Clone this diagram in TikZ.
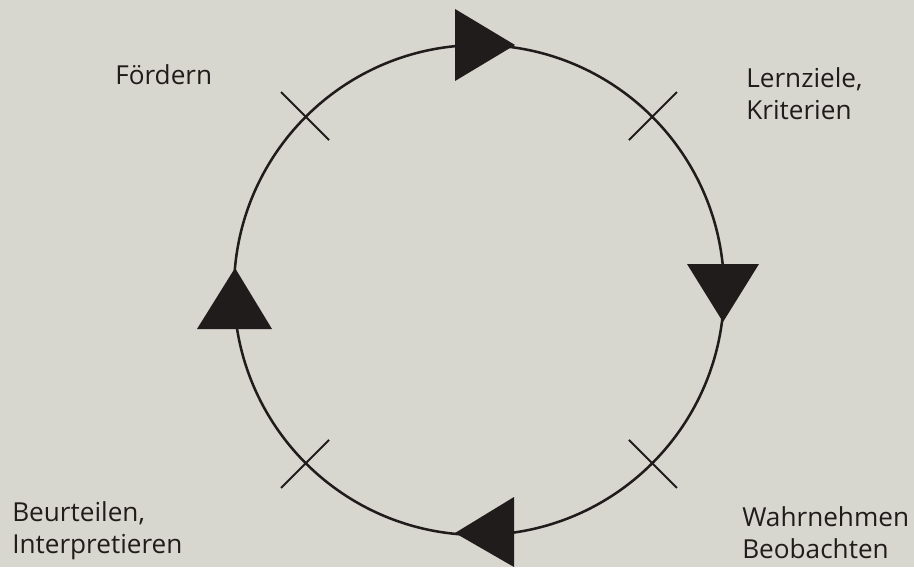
\documentclass[tikz,border=0pt]{standalone}
\usepackage{fontspec}
\setmainfont{Open Sans}
\usetikzlibrary{positioning,calc}
\definecolor{paper}{RGB}{215,214,207}
\definecolor{ink}{RGB}{32,28,28}

\begin{document}
\begin{tikzpicture}[x=0.025cm,y=-0.025cm,
  lbl/.style={font=\fontsize{18.6}{22.5}\selectfont, text=ink, align=left,
    anchor=base west, inner sep=0pt}]
  % paper and page size (914 x 567)
  \fill[paper] (0,0) rectangle (914,567);
  \useasboundingbox (0,0) rectangle (914,567);
  \coordinate (c) at (479,290);
  % the cycle
  \draw[ink, line width=1.8pt] (c) circle[radius=245];
  % ticks between the stages
  \foreach \a in {45,135,225,315}
    \draw[ink, line width=1.4pt] ($(c)+(\a:212)$) -- ($(c)+(\a:280)$);
  % direction marks (clockwise)
  \fill[ink] (515,45) -- (455,9) -- (455,81) -- cycle;    % top
  \fill[ink] (723,322) -- (687,264) -- (759,264) -- cycle; % right
  \fill[ink] (455,533) -- (514,497) -- (514,567) -- cycle; % bottom
  \fill[ink] (235,268) -- (197,329) -- (272,329) -- cycle; % left
  % stage labels (anchored at the last baseline)
  \node[lbl] (foerdern)   at (115,84)  {Fördern};
  \node[lbl] (lernziele)  at (746,119) {Lernziele,\\Kriterien};
  \node[lbl] (wahrnehmen) at (742,558) {Wahrnehmen\\Beobachten};
  \node[lbl] (beurteilen) at (12,553)  {Beurteilen,\\Interpretieren};
\end{tikzpicture}
\end{document}
